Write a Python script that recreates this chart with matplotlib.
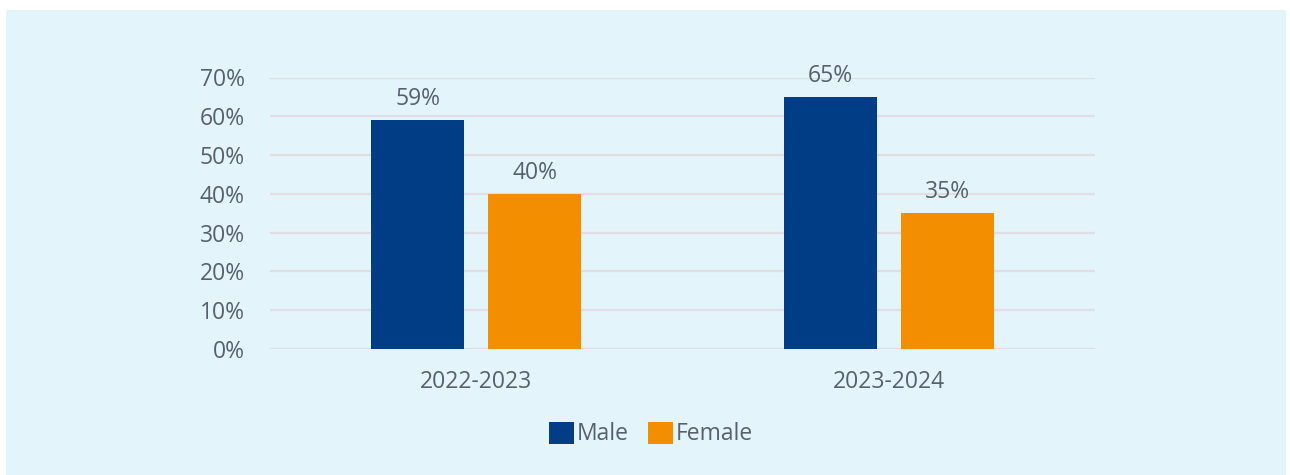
import numpy as np
import matplotlib.pyplot as plt
from matplotlib.patches import Rectangle

years = ["2022-2023", "2023-2024"]
male = [59, 65]
female = [40, 35]
series_names = ["Male", "Female"]

bg = "#e3f4fa"
text_col = "#56616d"
male_col = "#003d85"
female_col = "#f28e00"
fs = 16.5

plt.rcParams['font.family'] = ['Open Sans', 'DejaVu Sans']

fig = plt.figure(figsize=(12.9, 4.75), dpi=100)
fig.patch.set_facecolor("white")
# light panel behind the chart
fig.patches.append(Rectangle((6/1290, 0), 1280/1290, 1 - 10/475,
                             transform=fig.transFigure, facecolor=bg,
                             edgecolor="none", zorder=-10))

ax = fig.add_axes([270/1290, 1 - 349/475, 825/1290, (349 - 77.5)/475])
ax.set_facecolor("none")

x = np.arange(len(years))
w = 0.225
off = 0.142
b1 = ax.bar(x - off, male, w, color=male_col, label=series_names[0], zorder=3)
b2 = ax.bar(x + off, female, w, color=female_col, label=series_names[1], zorder=3)

for bars, vals in ((b1, male), (b2, female)):
    for r, v in zip(bars, vals):
        ax.annotate(f"{v}%", (r.get_x() + r.get_width()/2, v), xytext=(0, 11),
                    textcoords="offset points", ha="center", va="baseline",
                    fontsize=fs, color=text_col)

ax.set_xlim(-0.5, 1.5)
ax.set_ylim(0, 70)
ax.set_yticks(range(0, 71, 10))
ax.set_yticklabels([f"{t}%" for t in range(0, 71, 10)])
ax.set_xticks(x)
ax.set_xticklabels(years)
ax.yaxis.grid(True, color="#e2dde2", linewidth=1.6, zorder=0)
ax.tick_params(axis="both", length=0, labelsize=fs, colors=text_col)
ax.tick_params(axis="y", pad=18)
ax.tick_params(axis="x", pad=15)
for s in ax.spines.values():
    s.set_visible(False)

leg = fig.legend(handles=[b1, b2], loc="center", bbox_to_anchor=(651/1290, 1 - 434/475),
                 ncol=2, frameon=False, fontsize=fs, handlelength=1.1, handleheight=1.1,
                 handletextpad=0.15, columnspacing=0.8, labelcolor=text_col)

fig.savefig("out.png", dpi=100)
